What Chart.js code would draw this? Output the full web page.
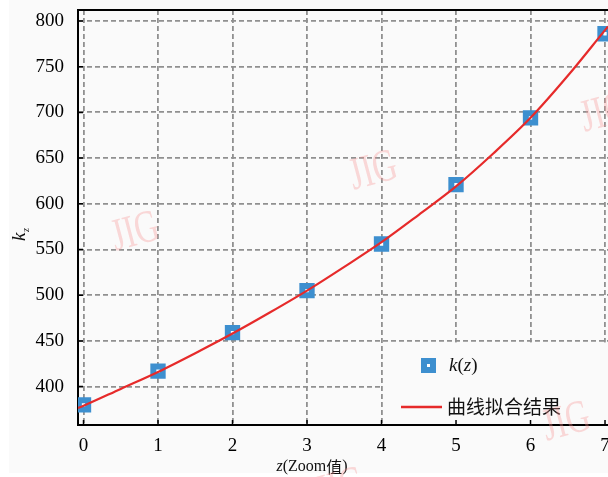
<!DOCTYPE html>
<html>
<head>
<meta charset="utf-8">
<script src="https://cdn.jsdelivr.net/npm/chart.js@4"></script>
<style>
  html, body { margin: 0; padding: 0; background: #fff; overflow: hidden; }
  canvas { display: block; }
</style>
</head>
<body>
<canvas id="myChart" width="608" height="477"></canvas>
<script>
// tick labels
const xTicks = [0, 1, 2, 3, 4, 5, 6, 7];
const yTicks = [400, 450, 500, 550, 600, 650, 700, 750, 800];

// measured k(z)
const zValues = [0, 1, 2, 3, 4, 5, 6, 7];
const kValues = [380, 417, 459, 505, 556, 621, 694, 786];

// fitted curve
const fitZ = [-0.074, 0, 0.5, 1, 1.5, 2, 2.5, 3, 3.5, 4, 4.5, 5, 5.5, 6, 6.5, 7, 7.04];
const fitK = [376.5, 379, 397.5, 416, 436.5, 458, 481, 505, 531, 558, 588, 619, 655, 694, 740, 790, 794];

const BLUE = "#3d8fcf";
const RED = "#e62a2a";
const BG = "#fafafa";
const GRID = "#909090";
const SERIF = "'Liberation Serif', 'DejaVu Serif', serif";
const CJK = "'Noto Sans CJK SC', sans-serif";

const bgPlugin = {
  id: "bg",
  beforeDraw(chart) {
    const ctx = chart.ctx;
    ctx.save();
    ctx.fillStyle = "#fff";
    ctx.fillRect(0, 0, chart.width, chart.height);
    ctx.fillStyle = BG;
    ctx.fillRect(9, 0, chart.width - 9, 473);
    ctx.restore();
  },
};

// draws a run of [text, italic] pieces starting at x
function drawRun(ctx, parts, x, y, size, family) {
  parts.forEach(([t, it]) => {
    ctx.font = (it ? "italic " : "") + size + "px " + (family || SERIF);
    ctx.fillText(t, x, y);
    x += ctx.measureText(t).width;
  });
  return x;
}

function runWidth(ctx, parts, size, family) {
  let w = 0;
  parts.forEach(([t, it]) => {
    ctx.font = (it ? "italic " : "") + size + "px " + (family || SERIF);
    w += ctx.measureText(t).width;
  });
  return w;
}

const decoPlugin = {
  id: "deco",
  afterDatasetsDraw(chart) {
    const { ctx, chartArea: a, scales } = chart;
    const xs = scales.x, ys = scales.y;
    ctx.save();

    // legend box, covering the grid
    const lx = xs.getPixelForValue(4) + 1.5;
    const ly = ys.getPixelForValue(450) + 1.5;
    ctx.fillStyle = BG;
    ctx.fillRect(lx, ly, a.right - lx, a.bottom - 1 - ly);

    // inward tick marks
    ctx.strokeStyle = "#000";
    ctx.lineWidth = 1.5;
    ctx.beginPath();
    xTicks.forEach((v) => {
      const px = xs.getPixelForValue(v);
      ctx.moveTo(px, a.bottom);
      ctx.lineTo(px, a.bottom - 5);
    });
    yTicks.forEach((v) => {
      const py = ys.getPixelForValue(v);
      ctx.moveTo(a.left, py);
      ctx.lineTo(a.left + 5, py);
    });
    ctx.stroke();

    // top frame line
    ctx.lineWidth = 2;
    ctx.beginPath();
    ctx.moveTo(a.left - 1, a.top);
    ctx.lineTo(a.right, a.top);
    ctx.stroke();

    // legend entries
    ctx.fillStyle = BLUE;
    ctx.fillRect(421, 358, 15, 15);
    ctx.fillStyle = "#fff";
    ctx.fillRect(427, 364, 3, 3);
    ctx.fillStyle = "#111";
    ctx.textBaseline = "middle";
    ctx.textAlign = "left";
    drawRun(ctx, [["k", true], ["(", false], ["z", true], [")", false]], 449, 366, 19);

    ctx.strokeStyle = RED;
    ctx.lineWidth = 2.5;
    ctx.beginPath();
    ctx.moveTo(401, 407);
    ctx.lineTo(442, 407);
    ctx.stroke();
    ctx.fillStyle = "#111";
    ctx.font = "19px " + CJK;
    ctx.fillText("曲线拟合结果", 447, 407);

    ctx.restore();
  },
  afterDraw(chart) {
    const { ctx } = chart;
    ctx.save();
    ctx.fillStyle = "#111";
    ctx.textBaseline = "middle";
    ctx.textAlign = "left";

    // x axis title
    const xParts = [["z", true], ["(Zoom", false]];
    const w = runWidth(ctx, xParts, 16) + runWidth(ctx, [["值)", false]], 16, CJK);
    let x = 312 - w / 2;
    x = drawRun(ctx, xParts, x, 467, 16);
    drawRun(ctx, [["值", false]], x, 467, 16, CJK);
    ctx.font = "16px " + SERIF;
    ctx.fillText(")", x + 16, 467);

    // y axis title k_z
    ctx.save();
    ctx.translate(20, 236);
    ctx.rotate(-Math.PI / 2);
    ctx.font = "italic 19px " + SERIF;
    ctx.fillText("k", -5, 0);
    ctx.font = "italic 10px " + SERIF;
    ctx.fillText("z", 4, 6);
    ctx.restore();

    // watermarks
    const marks = [[135, 231], [373, 170], [604, 112], [566, 421], [340, 487]];
    ctx.fillStyle = "rgba(246, 150, 150, 0.35)";
    ctx.textAlign = "center";
    marks.forEach(([mx, my]) => {
      ctx.save();
      ctx.translate(mx, my);
      ctx.rotate(-0.26);
      ctx.scale(0.72, 1);
      ctx.font = "46px " + SERIF;
      ctx.fillText("JIG", 0, 2);
      ctx.restore();
    });
    ctx.restore();
  },
};

const tickFont = { family: SERIF, size: 19 };

new Chart(document.getElementById("myChart"), {
  type: "scatter",
  data: {
    datasets: [
      {
        label: "曲线拟合结果",
        data: fitZ.map((z, i) => ({ x: z, y: fitK[i] })),
        showLine: true,
        borderColor: RED,
        borderWidth: 2.2,
        pointRadius: 0,
        cubicInterpolationMode: "monotone",
      },
      {
        label: "k(z)",
        data: zValues.map((z, i) => ({ x: z, y: kValues[i] })),
        pointStyle: "rect",
        pointRadius: 6.6,
        pointBorderWidth: 6,
        pointBorderColor: BLUE,
        pointBackgroundColor: "#fff",
      },
    ],
  },
  options: {
    responsive: false,
    devicePixelRatio: 1,
    animation: false,
    layout: { autoPadding: false, padding: { top: 10, left: 0, right: 0, bottom: 0 } },
    plugins: { legend: { display: false }, tooltip: { enabled: false } },
    scales: {
      x: {
        type: "linear",
        min: -0.074,
        max: 7.04,
        afterBuildTicks: (s) => { s.ticks = xTicks.map((v) => ({ value: v })); },
        afterFit: (s) => {
          s.height = 52;
          s.paddingLeft = 0; s.paddingRight = 0;
        },
        grid: { color: GRID, lineWidth: 1.8, drawTicks: false },
        border: { color: "#000", width: 2, dash: [5, 3] },
        ticks: { font: tickFont, color: "#000", padding: 10, maxRotation: 0 },
      },
      y: {
        type: "linear",
        min: 358,
        max: 812,
        afterBuildTicks: (s) => { s.ticks = yTicks.map((v) => ({ value: v })); },
        afterFit: (s) => {
          s.width = 78;
          s.paddingTop = 0; s.paddingBottom = 0;
        },
        grid: { color: GRID, lineWidth: 1.8, drawTicks: false },
        border: { color: "#000", width: 2, dash: [5, 3] },
        ticks: { font: tickFont, color: "#000", padding: 14 },
      },
    },
  },
  plugins: [bgPlugin, decoPlugin],
});
</script>
</body>
</html>
